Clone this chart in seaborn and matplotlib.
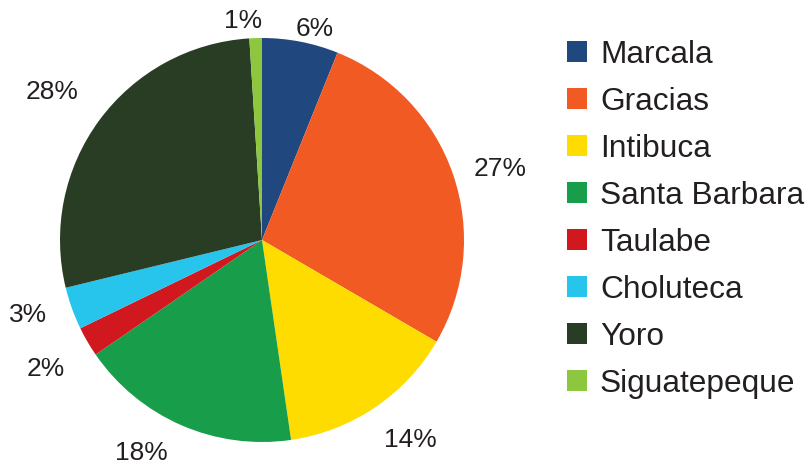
import seaborn as sns
import matplotlib.pyplot as plt

sns.set_theme(style="white")
plt.rcParams['font.family'] = ['Liberation Sans', 'DejaVu Sans']

sites = ["Marcala", "Gracias", "Intibuca", "Santa Barbara", "Taulabe",
         "Choluteca", "Yoro", "Siguatepeque"]
shares = [6.1, 27.3, 14.3, 17.7, 2.4, 3.4, 27.8, 1.0]
colors = ["#21477f", "#f15a22", "#ffdc00", "#189e4a", "#d2181f",
          "#27c4ec", "#283d23", "#8dc63f"]

# where each percent label sits, in pixels from the pie centre (x right, y down)
label_offsets = [(53, -211), (238, -71), (148, 200), (-121, 213),
                 (-216, 129), (-234, 75), (-210, -148), (-19, -219)]

TEXT = "#231f20"


def main():
    fig = plt.figure(figsize=(8.09, 4.65), dpi=100)
    ax = fig.add_axes([0, 0, 1, 1])
    r = 202.0

    wedges, _, autotexts = ax.pie(
        shares, colors=colors, startangle=90, counterclock=False,
        autopct="%1.0f%%", pctdistance=1.22, radius=1,
        wedgeprops=dict(linewidth=0),
        textprops=dict(fontsize=19, color=TEXT))
    ax.set_xlim(-262 / r, (809 - 262) / r)
    ax.set_ylim(-(465 - 240) / r, 240 / r)
    ax.set_aspect("auto")
    ax.axis("off")

    for t, (dx, dy) in zip(autotexts, label_offsets):
        t.set_position((dx / r, -dy / r))

    ax.legend(wedges, sites, loc="upper left",
              bbox_to_anchor=(567 / 809, 1 - 40 / 465),
              frameon=False, fontsize=22.8, handlelength=0.63, handleheight=0.63,
              handletextpad=0.41, labelspacing=0.535, labelcolor=TEXT,
              borderaxespad=0, borderpad=0)

    fig.savefig("out.png", dpi=100)


if __name__ == "__main__":
    main()
